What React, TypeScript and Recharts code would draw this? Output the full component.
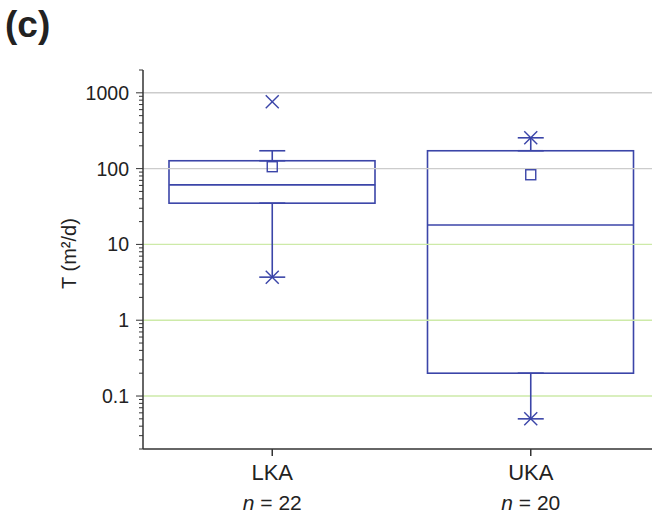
import React from "react";
import { ComposedChart, Bar, Scatter, XAxis, YAxis, ErrorBar, ReferenceLine } from "recharts";

// groups and box statistics (T in m²/d)
const categories = ["LKA", "UKA"];
const sampleSizes = [22, 20];
const q1 = [35, 0.2];
const median = [61, 18];
const q3 = [127, 172];
const mean = [106, 83];
const whiskerLow = [3.7, 0.05];
const whiskerHigh = [172, 255];
const minVal = [3.7, 0.05];
const maxVal = [762, 255];

const majorTicks = [0.1, 1, 10, 100, 1000];
const minorSteps = [2, 3, 4, 5, 6, 7, 8, 9];
const decades = [0.01, 0.1, 1, 10, 100, 1000];
const yDomain = [0.02, 2000];

const BLUE = "#3b45a8";
const AXIS = "#333333";
const FONT = "'Liberation Sans', Arial, sans-serif";

const data = categories.map((name, i) => ({
  name,
  box: [q1[i], q3[i]],
  median: median[i],
  mean: mean[i],
  q1: q1[i],
  q3: q3[i],
  upErr: [0, whiskerHigh[i] - q3[i]],
  loErr: [q1[i] - whiskerLow[i], 0],
  min: minVal[i],
  max: maxVal[i],
}));

const allTicks = [
  ...majorTicks,
  ...decades.flatMap((d) => minorSteps.map((m) => +(d * m).toPrecision(3))),
]
  .filter((v) => v >= yDomain[0] && v <= yDomain[1])
  .sort((a, b) => a - b);

const gridColor = (v: number) => (v >= 100 ? "#cccccc" : "#cdeaa8");

const YTick = (props: any) => {
  const { x, y, payload } = props;
  const v = payload.value;
  const major = majorTicks.includes(v);
  const ax = x + 14;
  return (
    <g>
      <line x1={ax - (major ? 7 : 4)} x2={ax} y1={y} y2={y} stroke={AXIS} strokeWidth={1} />
      {major && (
        <text x={x} y={y} dy="0.36em" textAnchor="end" fontSize={19.5} fill="#222" fontFamily={FONT}>
          {v}
        </text>
      )}
    </g>
  );
};

const XTick = (props: any) => {
  const { x, y, payload } = props;
  const i = categories.indexOf(payload.value);
  return (
    <g>
      <text x={x} y={y} dy={22} textAnchor="middle" fontSize={22} fill="#222" fontFamily={FONT}>
        {payload.value}
      </text>
      <text x={x} y={y} dy={52} textAnchor="middle" fontSize={21} fill="#222" fontFamily={FONT}>
        <tspan fontStyle="italic">n</tspan> = {sampleSizes[i]}
      </text>
    </g>
  );
};

const BoxShape = (props: any) => {
  const { x, y, width, height } = props;
  return <rect x={x} y={y} width={width} height={height} fill="none" stroke={BLUE} strokeWidth={1.6} />;
};

const MedianShape = (props: any) => {
  const { cx, cy } = props;
  return <line x1={cx - 103} x2={cx + 103} y1={cy} y2={cy} stroke={BLUE} strokeWidth={1.6} />;
};

const MeanShape = (props: any) => {
  const { cx, cy } = props;
  return <rect x={cx - 5} y={cy - 5} width={10} height={10} fill="none" stroke={BLUE} strokeWidth={1.4} />;
};

const CrossShape = (props: any) => {
  const { cx, cy } = props;
  const r = 6.5;
  return (
    <g stroke={BLUE} strokeWidth={1.4}>
      <line x1={cx - r} y1={cy - r} x2={cx + r} y2={cy + r} />
      <line x1={cx - r} y1={cy + r} x2={cx + r} y2={cy - r} />
    </g>
  );
};

const Hidden = () => <g />;

export default function App() {
  return (
    <div style={{ position: "absolute", left: 0, top: 0, width: 652, height: 513, overflow: "hidden", background: "#fff" }}>
      <div
        style={{
          position: "absolute",
          left: 5,
          top: 6,
          fontFamily: FONT,
          fontWeight: "bold",
          fontSize: 37,
          lineHeight: "37px",
          color: "#222",
        }}
      >
        (c)
      </div>
      <ComposedChart width={660} height={513} data={data} margin={{ top: 70, right: 0, bottom: 0, left: 0 }}>
        <XAxis
          dataKey="name"
          type="category"
          height={64}
          axisLine={{ stroke: AXIS, strokeWidth: 1.5 }}
          tickLine={{ stroke: AXIS, strokeWidth: 1.5 }}
          tickSize={7}
          tick={<XTick />}
          interval={0}
        />
        <YAxis
          type="number"
          scale="log"
          domain={yDomain}
          allowDataOverflow
          ticks={allTicks}
          interval={0}
          width={143}
          tickSize={7}
          tickMargin={7}
          tickLine={false}
          axisLine={{ stroke: AXIS, strokeWidth: 1.5 }}
          tick={<YTick />}
          label={{
            content: (p: any) => {
              const vb = p.viewBox;
              const cx = vb.x + 69;
              const cy = vb.y + vb.height / 2 - 6;
              return (
                <text
                  x={cx}
                  y={cy}
                  transform={`rotate(-90 ${cx} ${cy})`}
                  textAnchor="middle"
                  dominantBaseline="central"
                  fontSize={20}
                  fill="#222"
                  fontFamily={FONT}
                >
                  T (m²/d)
                </text>
              );
            },
          }}
        />
        {majorTicks.map((v) => (
          <ReferenceLine key={v} y={v} stroke={gridColor(v)} strokeWidth={1.4} ifOverflow="hidden" />
        ))}
        <Bar dataKey="box" barSize={206} shape={<BoxShape />} isAnimationActive={false} />
        <Scatter dataKey="q3" shape={<Hidden />} isAnimationActive={false}>
          <ErrorBar dataKey="upErr" direction="y" width={13} stroke={BLUE} strokeWidth={1.6} />
        </Scatter>
        <Scatter dataKey="q1" shape={<Hidden />} isAnimationActive={false}>
          <ErrorBar dataKey="loErr" direction="y" width={13} stroke={BLUE} strokeWidth={1.6} />
        </Scatter>
        <Scatter dataKey="median" shape={<MedianShape />} isAnimationActive={false} />
        <Scatter dataKey="mean" shape={<MeanShape />} isAnimationActive={false} />
        <Scatter dataKey="max" shape={<CrossShape />} isAnimationActive={false} />
        <Scatter dataKey="min" shape={<CrossShape />} isAnimationActive={false} />
      </ComposedChart>
    </div>
  );
}
